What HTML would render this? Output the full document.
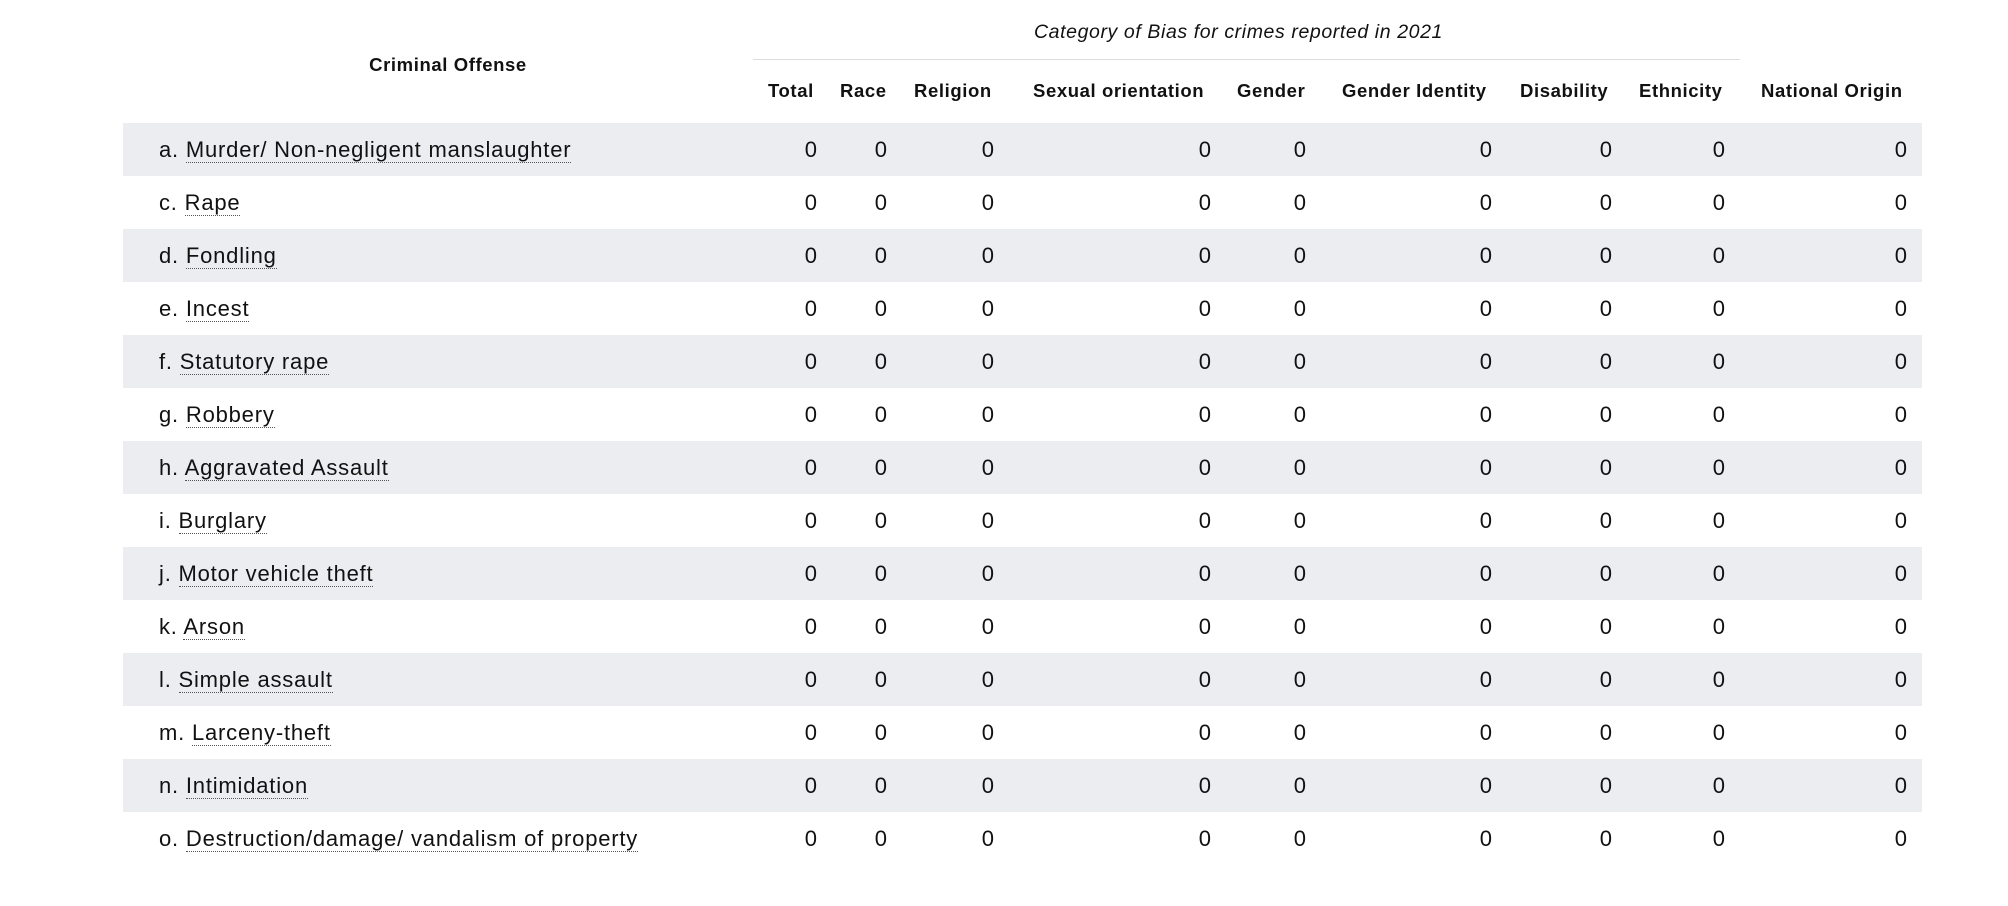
<!DOCTYPE html>
<html><head><meta charset="utf-8"><style>
body{margin:0;width:2008px;height:906px;background:#fff;font-family:"Liberation Sans",sans-serif;color:#111;position:relative;overflow:hidden}
.abs{position:absolute;white-space:nowrap}
.hd{font-weight:bold;font-size:18.5px;top:80px;letter-spacing:0.6px}
.band{position:absolute;left:123px;width:1799px;height:53px;background:#ecedf1}
.lbl{font-size:22px;left:159px;letter-spacing:0.8px}
.lbl span{border-bottom:1.5px dotted #555}
.num{font-size:22px;text-align:right;width:60px}
</style></head><body>
<div class="abs" style="left:1017px;width:443px;text-align:center;top:21px;font-style:italic;font-size:19.5px;letter-spacing:0.6px">Category of Bias for crimes reported in 2021</div>
<div class="abs" style="left:753px;width:987px;top:59px;height:1px;background:#ddd"></div>
<div class="abs hd" style="left:298px;width:300px;text-align:center;top:54px">Criminal Offense</div>
<div id="tbl"></div>
<script>
const offenses=["a. |Murder/ Non-negligent manslaughter","c. |Rape","d. |Fondling","e. |Incest","f. |Statutory rape","g. |Robbery","h. |Aggravated Assault","i. |Burglary","j. |Motor vehicle theft","k. |Arson","l. |Simple assault","m. |Larceny-theft","n. |Intimidation","o. |Destruction/damage/ vandalism of property"];
const columns=["Total","Race","Religion","Sexual orientation","Gender","Gender Identity","Disability","Ethnicity","National Origin"];
const values=[
[0,0,0,0,0,0,0,0,0],[0,0,0,0,0,0,0,0,0],[0,0,0,0,0,0,0,0,0],[0,0,0,0,0,0,0,0,0],
[0,0,0,0,0,0,0,0,0],[0,0,0,0,0,0,0,0,0],[0,0,0,0,0,0,0,0,0],[0,0,0,0,0,0,0,0,0],
[0,0,0,0,0,0,0,0,0],[0,0,0,0,0,0,0,0,0],[0,0,0,0,0,0,0,0,0],[0,0,0,0,0,0,0,0,0],
[0,0,0,0,0,0,0,0,0],[0,0,0,0,0,0,0,0,0]];
const colRight=[817,887,994,1211,1306,1492,1612,1725,1907];
const hdrLeft=[768,840,914,1033,1237,1342,1520,1639,1761];
const t=document.getElementById('tbl');
columns.forEach((c,j)=>{
  const d=document.createElement('div');
  d.className='abs hd';
  
  
  d.style.left=hdrLeft[j]+'px';
  d.textContent=c;t.appendChild(d);
});
offenses.forEach((o,i)=>{
  const top=123+i*53;
  if(i%2==0){const b=document.createElement('div');b.className='band';
    
    
    b.style.top=top+'px';t.appendChild(b);}
  const l=document.createElement('div');l.className='abs lbl';
  
  
  l.style.top=(top+14)+'px';
  const p=o.split('|');l.innerHTML=p[0]+'<span>'+p[1]+'</span>';t.appendChild(l);
  values[i].forEach((v,j)=>{
    const n=document.createElement('div');n.className='abs num';
    
    
    n.style.left=(colRight[j]-60)+'px';n.style.top=(top+14)+'px';
    n.textContent=v;t.appendChild(n);
  });
});
</script>
</body></html>
